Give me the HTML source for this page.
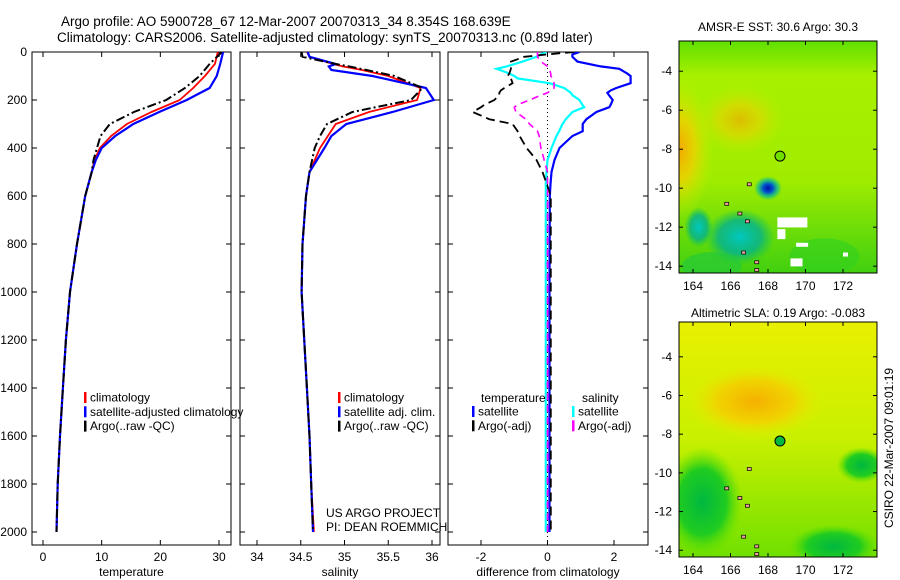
<!DOCTYPE html>
<html><head><meta charset="utf-8">
<style>
html,body{margin:0;padding:0;background:#fff;}
svg{display:block;font-family:"Liberation Sans",sans-serif;}
</style></head>
<body>
<svg id="fig" width="900" height="580" viewBox="0 0 900 580" xmlns="http://www.w3.org/2000/svg">
<defs>
<clipPath id="c1"><rect x="32" y="52" width="199" height="493"/></clipPath>
<clipPath id="c2"><rect x="240" y="52" width="200" height="493"/></clipPath>
<clipPath id="c3"><rect x="448" y="52" width="200" height="493"/></clipPath>
<clipPath id="sst-map-clip"><rect x="679" y="41" width="198" height="232"/></clipPath>
<clipPath id="sla-map-clip"><rect x="679" y="322" width="198" height="235"/></clipPath>
<radialGradient id="sstOrange" cx="0.5" cy="0.5" r="0.5"><stop offset="0" stop-color="#f5a800"/><stop offset="0.45" stop-color="#f0d000" stop-opacity="0.8"/><stop offset="1" stop-color="#c8f000" stop-opacity="0"/></radialGradient>
<radialGradient id="sstBlue" cx="0.5" cy="0.5" r="0.5"><stop offset="0" stop-color="#0010a0"/><stop offset="0.35" stop-color="#0050d0"/><stop offset="0.7" stop-color="#00b8a0" stop-opacity="0.7"/><stop offset="1" stop-color="#00c080" stop-opacity="0"/></radialGradient>
<radialGradient id="sstTeal" cx="0.5" cy="0.5" r="0.5"><stop offset="0" stop-color="#00c8c0"/><stop offset="0.6" stop-color="#00b090" stop-opacity="0.8"/><stop offset="1" stop-color="#00c060" stop-opacity="0"/></radialGradient>
<radialGradient id="slaOrange" cx="0.5" cy="0.5" r="0.5"><stop offset="0" stop-color="#f5b000"/><stop offset="0.55" stop-color="#f0d400"/><stop offset="1" stop-color="#e0f000" stop-opacity="0"/></radialGradient>
<radialGradient id="slaGreen" cx="0.5" cy="0.5" r="0.5"><stop offset="0" stop-color="#00b840"/><stop offset="0.6" stop-color="#20cc20"/><stop offset="1" stop-color="#60e000" stop-opacity="0"/></radialGradient>
<linearGradient id="sstBase" x1="0" y1="0" x2="0" y2="1"><stop offset="0" stop-color="#60e000"/><stop offset="0.15" stop-color="#a8f000"/><stop offset="0.6" stop-color="#a0ec00"/><stop offset="1" stop-color="#40d010"/></linearGradient>
<linearGradient id="slaBase" x1="0" y1="0" x2="0" y2="1"><stop offset="0" stop-color="#e8f000"/><stop offset="0.5" stop-color="#c8f000"/><stop offset="1" stop-color="#70e000"/></linearGradient>
</defs>
<g id="root"></g>
</svg>
<script>
// ---- data (depth in m) ----
const tDepth = [0,50,100,150,200,250,300,350,400,450,500,600,800,1000,1200,1400,1600,1800,2000];
const tClim  = [29.8,29.3,27.6,25.6,23.3,18.5,14.3,11.6,9.7,8.8,8.3,7.2,5.8,4.6,3.9,3.4,2.9,2.5,2.3];
const tSat   = [30.7,30.2,29.6,28.4,24.5,19.8,15.4,12.3,10.0,9.0,8.3,7.2,5.8,4.6,3.9,3.4,2.9,2.5,2.3];
const tArgo  = [30.5,28.4,26.7,24.2,21.0,15.5,11.4,9.8,9.2,8.6,8.3,7.2,5.8,4.6,3.9,3.4,2.9,2.5,2.3];
const sDepth = [0,20,50,60,75,100,150,200,250,300,350,400,500,600,800,1000,1400,1600,1800,2000];
const sClim  = [34.57,34.6,34.87,34.98,35.2,35.5,35.87,35.83,35.28,34.9,34.81,34.72,34.6,34.56,34.52,34.51,34.57,34.6,34.62,34.65];
const sSat   = [34.58,34.6,34.9,34.82,34.85,35.32,35.93,36.02,35.55,35.02,34.85,34.77,34.6,34.56,34.52,34.51,34.57,34.6,34.62,34.64];
const sArgo  = [34.51,34.52,34.9,35.05,35.25,35.57,35.89,35.76,35.09,34.8,34.72,34.66,34.6,34.56,34.52,34.51,34.57,34.6,34.62,34.64];
const dDepth = [0,10,20,40,60,70,90,100,110,130,150,160,170,180,200,220,230,250,280,300,330,350,400,450,500,550,600,1000,1500,2000];
const dTsat  = [0.96,0.75,0.75,0.9,1.6,2.16,2.4,2.5,2.5,2.5,2.07,1.9,1.8,1.85,1.96,1.9,1.86,1.47,1.17,1.06,1.06,0.75,0.36,0.21,0.12,0.09,0.07,0.06,0.06,0.06];
const dSsat  = [-0.03,-0.2,-0.33,-0.75,-1.23,-1.53,-1.14,-1.0,-0.9,0.06,0.5,0.6,0.7,0.75,0.96,1.05,1.1,0.75,0.55,0.45,0.35,0.27,0.12,0.0,-0.03,-0.05,-0.05,-0.05,-0.05,-0.05];
const dTargo = [0.8,0.0,-0.7,-1.1,-1.1,-1.1,-1.15,-1.2,-1.1,-1.05,-1.3,-1.4,-1.45,-1.45,-1.6,-1.9,-2.0,-2.25,-1.75,-1.05,-0.9,-0.84,-0.63,-0.33,-0.15,-0.02,0.1,0.1,0.1,0.1];
const dSargo = [-0.3,-0.3,-0.3,-0.2,0.0,0.05,0.1,0.1,0.15,0.2,0.2,0.1,0.0,-0.2,-0.54,-0.9,-1.0,-0.95,-0.65,-0.54,-0.3,-0.25,-0.2,-0.1,0.0,0.0,0.0,0.0,0.0,0.0];
const depthTicks = [0,200,400,600,800,1000,1200,1400,1600,1800,2000];
const tTicks = [0,10,20,30];
const sTicks = [34,34.5,35,35.5,36];
const dTicks = [-2,0,2];
const lonTicks = [164,166,168,170,172];
const sstLatTicks = [-4,-6,-8,-10,-12,-14];
const slaLatTicks = [-4,-6,-8,-10,-12,-14];
const argoLon = 168.639, argoLat = -8.354;

const NS='http://www.w3.org/2000/svg';
const root=document.getElementById('root');
function mk(tag,attrs,parent,text){const e=document.createElementNS(NS,tag);for(const k in attrs)e.setAttribute(k,attrs[k]);if(text!==undefined)e.textContent=text;(parent||root).appendChild(e);return e;}
function lin(d0,d1,r0,r1){return v=>r0+(v-d0)*(r1-r0)/(d1-d0);}
const yD=lin(0,2000,52,532);

function panel(name,x0,x1,xs,ticks,fmt,label,showY){
  const g=mk('g',{});
  
  
  const fr=mk('rect',{x:x0,y:52,width:x1-x0,height:493,fill:'none',stroke:'#000','stroke-width':1},g);
  
  
  ticks.forEach(t=>{const x=xs(t);
    mk('line',{x1:x,x2:x,y1:545,y2:540,stroke:'#000'},g);
    mk('line',{x1:x,x2:x,y1:52,y2:57,stroke:'#000'},g);
    const tl=mk('text',{x:x,y:561,'font-size':12,'text-anchor':'middle'},g,fmt(t));
    
    
  });
  depthTicks.forEach(d=>{const y=yD(d);
    mk('line',{x1:x0,x2:x0+5,y1:y,y2:y,stroke:'#000'},g);
    mk('line',{x1:x1,x2:x1-5,y1:y,y2:y,stroke:'#000'},g);
    if(showY){const tl=mk('text',{x:27,y:y+4,'font-size':12,'text-anchor':'end'},g,String(d));
      
      }
  });
  const xl=mk('text',{x:(x0+x1)/2,y:576,'font-size':12,'text-anchor':'middle'},g,label);
  
  
  return g;
}
function series(g,clip,xs,depths,vals,color,w,dash,name){
  const pts=vals.map((v,i)=>xs(v).toFixed(1)+','+yD(depths[i]).toFixed(1)).join(' ');
  const p=mk('polyline',{points:pts,fill:'none',stroke:color,'stroke-width':w,'clip-path':'url(#'+clip+')'},g);
  if(dash)p.setAttribute('stroke-dasharray',dash);
  
  
}
function legend(g,x,y,items){
  items.forEach((it,i)=>{
    const yy=y+i*14.3;
    const e=mk('g',{},g);
    
    
    mk('rect',{x:x,y:yy-5,width:2.5,height:11,fill:it[1]},e);
    mk('text',{x:x+6,y:yy+4.5,'font-size':12},e,it[0]);
  });
}

// Title
const t1=mk('text',{x:61,y:26,'font-size':13.5},root,'Argo profile: AO 5900728_67 12-Mar-2007 20070313_34 8.354S 168.639E');


const t2=mk('text',{x:57,y:42,'font-size':13.5},root,'Climatology: CARS2006. Satellite-adjusted climatology: synTS_20070313.nc (0.89d later)');



// Panel 1 temperature
const xT=lin(0,30,43,219);
const g1=panel('temperature-panel',32,231,xT,tTicks,String,'temperature',true);
series(g1,'c1',xT,tDepth,tClim,'#ff0000',1.8,null,'temp-climatology-line');
series(g1,'c1',xT,tDepth,tSat,'#0000ff',2.2,null,'temp-satellite-line');
series(g1,'c1',xT,tDepth,tArgo,'#000000',2,'9,3,2,3','temp-argo-line');
legend(g1,84,397,[['climatology','#ff0000'],['satellite-adjusted climatology','#0000ff'],['Argo(..raw -QC)','#000']]);

// Panel 2 salinity
const xS=lin(34,36,257,432);
const g2=panel('salinity-panel',240,440,xS,sTicks,String,'salinity',false);
series(g2,'c2',xS,sDepth,sClim,'#ff0000',1.8,null,'sal-climatology-line');
series(g2,'c2',xS,sDepth,sSat,'#0000ff',2.2,null,'sal-satellite-line');
series(g2,'c2',xS,sDepth,sArgo,'#000000',2,'9,3,2,3','sal-argo-line');
legend(g2,338,397,[['climatology','#ff0000'],['satellite adj. clim.','#0000ff'],['Argo(..raw -QC)','#000']]);
const pr=mk('text',{x:326,y:517,'font-size':12},g2,'US ARGO PROJECT');

const pi=mk('text',{x:326,y:531,'font-size':12},g2,'PI: DEAN ROEMMICH');


// Panel 3 differences
const xDf=lin(-2,2,481,614);
const g3=panel('difference-panel',448,648,xDf,dTicks,String,'difference from climatology',false);
const zl=mk('line',{x1:xDf(0),x2:xDf(0),y1:52,y2:545,stroke:'#000','stroke-dasharray':'1,3'},g3);

series(g3,'c3',xDf,dDepth,dTsat,'#0000ff',2.2,null,'diff-temp-satellite-line');
series(g3,'c3',xDf,dDepth,dSsat,'#00ffff',2.2,null,'diff-sal-satellite-line');
series(g3,'c3',xDf,dDepth,dTargo,'#000000',1.8,'9,5','diff-temp-argo-line');
series(g3,'c3',xDf,dDepth,dSargo,'#ff00ff',1.6,'7,5','diff-sal-argo-line');
const lh1=mk('text',{x:481,y:402,'font-size':12},g3,'temperature');

const lh2=mk('text',{x:582,y:402,'font-size':12},g3,'salinity');

legend(g3,472,411,[['satellite','#0000ff'],['Argo(-adj)','#000']]);
legend(g3,572,411,[['satellite','#00ffff'],['Argo(-adj)','#ff00ff']]);

// Maps
function mapPanel(name,top,bottom,latTicks,latTop,latBot,title,titleY,kind){
  const x0=679,x1=877;
  const xl=lin(164,172,693,843), yl=lin(latTop,latBot,top,bottom);
  const g=mk('g',{});
  
  
  const f=mk('g',{'clip-path':'url(#'+name+'-clip)'},g);
  const w=x1-x0,h=bottom-top;
  const bg=mk('rect',{x:x0,y:top,width:w,height:h,fill:kind==='sst'?'url(#sstBase)':'url(#slaBase)'},f);
  
  if(kind==='sst'){
    mk('ellipse',{cx:x0,cy:yl(-8),rx:35,ry:70,fill:'url(#sstOrange)'},f);
    mk('ellipse',{cx:xl(166.5),cy:yl(-6.5),rx:45,ry:35,fill:'url(#sstOrange)',opacity:0.7},f);
    mk('ellipse',{cx:xl(166.5),cy:yl(-12.5),rx:35,ry:28,fill:'url(#sstTeal)'},f);
    mk('ellipse',{cx:xl(164.3),cy:yl(-12),rx:14,ry:20,fill:'url(#sstTeal)'},f);
    mk('ellipse',{cx:xl(168),cy:yl(-10),rx:14,ry:12,fill:'url(#sstBlue)'},f);
    mk('ellipse',{cx:xl(171),cy:yl(-13.5),rx:35,ry:18,fill:'#30d020',opacity:0.6},f);
    mk('ellipse',{cx:xl(165),cy:yl(-14),rx:30,ry:14,fill:'#20c840',opacity:0.6},f);
    [[168.5,-11.5,30,10],[168.5,-12.1,8,10],[169.5,-12.8,12,4],[169.2,-13.6,12,8],[172,-13.3,5,4]].forEach(r=>mk('rect',{x:xl(r[0]),y:yl(r[1]),width:r[2],height:r[3],fill:'#fff'},f));
    mk('circle',{cx:xl(argoLon),cy:yl(argoLat),r:5,fill:'#70e000',stroke:'#000'},g);
  } else {
    mk('ellipse',{cx:xl(167.3),cy:yl(-6.3),rx:70,ry:38,fill:'url(#slaOrange)'},f);
    mk('ellipse',{cx:xl(164.5),cy:yl(-11.5),rx:40,ry:55,fill:'url(#slaGreen)'},f);
    mk('ellipse',{cx:xl(171.5),cy:yl(-13.8),rx:45,ry:22,fill:'url(#slaGreen)'},f);
    mk('ellipse',{cx:xl(173),cy:yl(-9.6),rx:25,ry:18,fill:'url(#slaGreen)'},f);
    mk('circle',{cx:xl(argoLon),cy:yl(argoLat),r:5,fill:'#00b840',stroke:'#000'},g);
  }
  [[165.8,-10.8],[166.5,-11.3],[166.9,-11.7],[166.7,-13.3],[167.4,-13.8],[167.4,-14.2],[167,-9.8]].forEach(p=>mk('rect',{x:xl(p[0])-2,y:yl(p[1])-1.5,width:4,height:3,fill:'#f0a0a0',stroke:'#000','stroke-width':0.7},f));
  const fr=mk('rect',{x:x0,y:top,width:w,height:h,fill:'none',stroke:'#000'},g);
  
  lonTicks.forEach(l=>{const x=xl(l);
    mk('line',{x1:x,x2:x,y1:bottom,y2:bottom-4,stroke:'#000'},g);
    mk('line',{x1:x,x2:x,y1:top,y2:top+4,stroke:'#000'},g);
    const t=mk('text',{x:x,y:bottom+17,'font-size':12,'text-anchor':'middle'},g,String(l));
    
  });
  latTicks.forEach(l=>{const y=yl(l);
    mk('line',{x1:x0,x2:x0+4,y1:y,y2:y,stroke:'#000'},g);
    mk('line',{x1:x1,x2:x1-4,y1:y,y2:y,stroke:'#000'},g);
    const t=mk('text',{x:672,y:y+4,'font-size':12,'text-anchor':'end'},g,String(l));
    
  });
  const tt=mk('text',{x:778,y:titleY,'font-size':12,'text-anchor':'middle'},g,title);
  
}
mapPanel('sst-map',41,273,sstLatTicks,-2.45,-14.35,'AMSR-E SST: 30.6 Argo: 30.3',31,'sst');
mapPanel('sla-map',322,557,slaLatTicks,-2.2,-14.35,'Altimetric SLA: 0.19 Argo: -0.083',317,'sla');
const cs=mk('text',{x:0,y:0,'font-size':12,'text-anchor':'middle',transform:'translate(893,448) rotate(-90)'},root,'CSIRO 22-Mar-2007 09:01:19');

</script>
</body></html>
